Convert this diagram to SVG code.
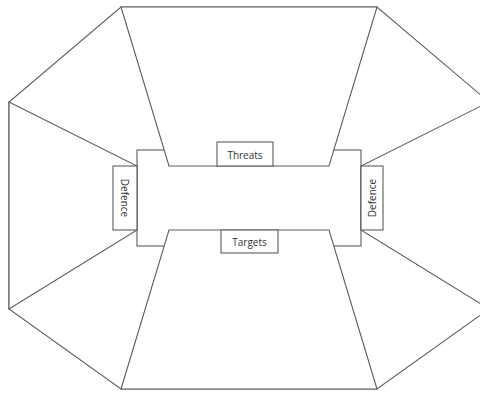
<svg xmlns="http://www.w3.org/2000/svg" width="480" height="394" viewBox="0 0 480 394">
  <style>
    .edge { fill: #ffffff; stroke: #5c5c5c; stroke-width: 1.1; stroke-linejoin: miter; }
    .box { fill: #ffffff; stroke: #5c5c5c; stroke-width: 1.1; }
    .lbl { font-family: "Open Sans", "Noto Sans", "DejaVu Sans", sans-serif; font-size: 10px; fill: #333333; text-anchor: middle; dominant-baseline: central; }
  </style>
  <rect width="480" height="394" fill="#ffffff"/>

  <!-- outer octagon frame -->
  <g id="frame">
    <polygon class="edge" points="121,7 377,7 489,102 489,309 377,389 121,389 9,309 9,102"/>
  </g>

  <!-- central core block with notched corners -->
  <g id="core">
    <rect class="edge" x="137" y="150" width="224" height="96"/>
  </g>

  <!-- four zones around the core -->
  <g id="threats-zone">
    <polygon class="edge" points="121,7 377,7 329,166 169,166"/>
  </g>
  <g id="targets-zone">
    <polygon class="edge" points="121,389 377,389 329,230 169,230"/>
  </g>
  <g id="defence-left-zone">
    <polygon class="edge" points="9,102 137,166 137,230 9,309"/>
  </g>
  <g id="defence-right-zone">
    <polygon class="edge" points="489,102 361,166 361,230 489,309"/>
  </g>

  <!-- label tabs -->
  <g id="threats">
    <rect class="box" x="217" y="142" width="56" height="24"/>
    <text class="lbl" x="245" y="155">Threats</text>
  </g>
  <g id="targets">
    <rect class="box" x="221" y="230" width="57" height="23"/>
    <text class="lbl" x="249.5" y="242">Targets</text>
  </g>
  <g id="defence-left">
    <rect class="box" x="113" y="166" width="24" height="64"/>
    <text class="lbl" transform="translate(125,198) rotate(90)">Defence</text>
  </g>
  <g id="defence-right">
    <rect class="box" x="361" y="166" width="22" height="64"/>
    <text class="lbl" transform="translate(372,198) rotate(-90)">Defence</text>
  </g>

  <g id="connectors"></g>
</svg>
